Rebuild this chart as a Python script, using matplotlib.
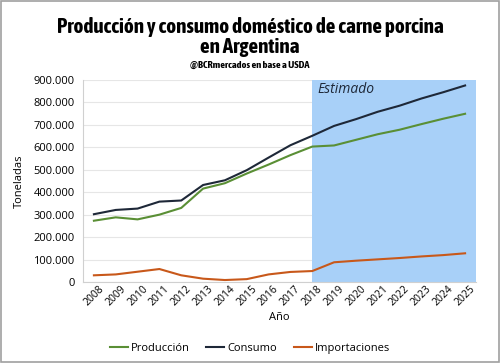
import numpy as np
import matplotlib.pyplot as plt
from matplotlib import font_manager
from matplotlib.ticker import FuncFormatter, MultipleLocator

# datos (toneladas)
anios = list(range(2008, 2026))
produccion = [273000, 288000, 279000, 300000, 330000, 416000, 440000, 483000, 523000,
              565000, 603000, 608000, 633000, 658000, 678000, 703000, 727000, 749000]
consumo = [302000, 321000, 327000, 358000, 363000, 432000, 453000, 498000, 554000,
           609000, 651000, 695000, 725000, 758000, 785000, 817000, 845000, 875000]
importaciones = [30000, 34000, 46000, 58000, 30000, 15000, 9000, 13000, 34000,
                 45000, 49000, 88000, 95000, 101000, 107000, 114000, 120000, 128000]
inicio_estimado = 2018

plt.rcParams['font.family'] = ['Open Sans', 'DejaVu Sans']

# buscar una fuente angosta en negrita (no itálica) para el título, si hay
def _peso(w):
    if isinstance(w, str):
        return 700 if 'bold' in w.lower() else 400
    return w

candidatas = [f for f in font_manager.fontManager.ttflist
              if ('Condensed' in f.name or 'Narrow' in f.name
                  or f.stretch in ('condensed', 'semi-condensed', 'extra-condensed'))
              and _peso(f.weight) >= 600 and f.style == 'normal']
candidatas.sort(key=lambda f: (abs(_peso(f.weight) - 700), f.name))
titulo_fuente = font_manager.FontProperties(fname=candidatas[0].fname) if candidatas else None

fig = plt.figure(figsize=(5, 3.63), dpi=100)
ax = fig.add_axes([0.166, 0.223, 0.786, 0.557])

ax.axvspan(inicio_estimado, anios[-1] + 0.5, color='#A8D0F8', zorder=0.8, lw=0)
ax.plot(anios, produccion, color='#5A8F35', lw=1.5, label='Producción')
ax.plot(anios, consumo, color='#1E2838', lw=1.5, label='Consumo')
ax.plot(anios, importaciones, color='#C8581A', lw=1.5, label='Importaciones')

ax.text(inicio_estimado + 0.25, 855000, 'Estimado', fontsize=10, style='italic',
        color='#1E2838', va='center', ha='left')

ax.set_xlim(anios[0] - 0.5, anios[-1] + 0.5)
ax.set_ylim(0, 900000)
ax.yaxis.set_major_locator(MultipleLocator(100000))
ax.yaxis.set_major_formatter(FuncFormatter(lambda v, p: f'{int(v):,}'.replace(',', '.')))
ax.set_xticks(anios)
ax.set_xticklabels([str(a) for a in anios], rotation=45, fontsize=7.5)
ax.tick_params(axis='y', labelsize=8, length=0, pad=6)
ax.tick_params(axis='x', length=0, pad=1)
ax.grid(axis='y', color='#E6E6E6', lw=0.8)
ax.set_axisbelow(True)
for s in ['top', 'right']:
    ax.spines[s].set_visible(False)
for s in ['left', 'bottom']:
    ax.spines[s].set_color('#D0D0D0')

ax.set_ylabel('Toneladas', fontsize=8, labelpad=6)
ax.set_xlabel('Año', fontsize=8, labelpad=3)

titulo = 'Producción y consumo doméstico de carne porcina\nen Argentina'
subtitulo = '@BCRmercados en base a USDA'
if titulo_fuente is not None:
    t1 = titulo_fuente.copy()
    t1.set_size(15.2)
    t2 = titulo_fuente.copy()
    t2.set_size(7.5)
    fig.text(0.5, 0.897, titulo, ha='center', va='center', fontproperties=t1,
             linespacing=1.0)
    fig.text(0.5, 0.82, subtitulo, ha='center', va='center', fontproperties=t2)
else:
    fig.text(0.5, 0.897, titulo, ha='center', va='center', fontsize=10.5,
             fontweight='bold', family='DejaVu Sans', linespacing=1.2)
    fig.text(0.5, 0.82, subtitulo, ha='center', va='center', fontsize=6,
             fontweight='bold', family='DejaVu Sans')

fig.legend(loc='center', bbox_to_anchor=(0.5, 0.04), ncol=3, frameon=False,
           fontsize=8, handlelength=1.6, handletextpad=0.3, columnspacing=1.5)

fig.patches.append(plt.Rectangle((0.002, 0.003), 0.995, 0.994, transform=fig.transFigure,
                                 fill=False, edgecolor='#A0A0A0', lw=1.2))

fig.savefig('out.png', dpi=100)
